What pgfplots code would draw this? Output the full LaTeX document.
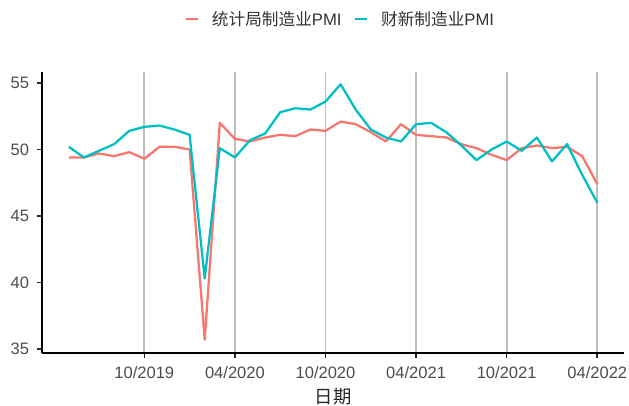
\documentclass[border=0pt]{standalone}
\usepackage{pgfplots}
\pgfplotsset{compat=1.18}
\usepackage{fontspec}
\setmainfont{Liberation Sans}
\newfontfamily\cjk{Noto Sans CJK SC}
\definecolor{nbs}{HTML}{F8766D}
\definecolor{cx}{HTML}{00BFC4}
\definecolor{gridc}{RGB}{190,190,190}
\definecolor{txt}{RGB}{77,77,77}

\begin{document}
\begin{tikzpicture}
\path[use as bounding box] (-31.8pt,-39.4pt) rectangle (439.98pt,264.4pt);
\begin{axis}[
  at={(0pt,0pt)}, anchor=south west,
  scale only axis, width=436pt, height=210.75pt,
  xmin=-1.75, xmax=36.75, ymin=34.74, ymax=55.86,
  axis x line=bottom, axis y line=left,
  axis line style={-, line width=1.5pt, black},
  xtick={5,11,17,23,29,35},
  xticklabels={10/2019,04/2020,10/2020,04/2021,10/2021,04/2022},
  ytick={35,40,45,50,55},
  tick align=outside, major tick length=4pt,
  tick style={line width=1.2pt, black!85},
  xmajorgrids=true, ymajorgrids=false,
  major grid style={gridc, line width=1.4pt},
  ticklabel style={font=\fontsize{12.4}{14}\selectfont, text=txt, inner sep=0pt},
  xticklabel shift=6pt, yticklabel shift=5.8pt,
  /pgf/number format/assume math mode=true,
  xlabel={\cjk 日期},
  xlabel style={at={(axis description cs:0.5,0)}, anchor=center, yshift=-33.4pt,
    font=\fontsize{13.75}{15}\selectfont, text=black!85},
  legend columns=2,
  legend style={at={(axis description cs:0.2453,1.1868)}, anchor=west,
    draw=none, fill=none, inner sep=0pt, outer sep=0pt, column sep=9.5pt,
    font=\fontsize{12.5}{14}\selectfont, text=black!80, nodes={inner sep=0pt}},
  legend image code/.code={\draw[#1] (0pt,0pt) -- (9pt,0pt);},
]
\addplot[nbs, line width=1.7pt, line join=round] coordinates {
(0,49.4) (1,49.4) (2,49.7) (3,49.5) (4,49.8) (5,49.3) (6,50.2) (7,50.2)
(8,50.0) (9,35.7) (10,52.0) (11,50.8) (12,50.6) (13,50.9) (14,51.1) (15,51.0)
(16,51.5) (17,51.4) (18,52.1) (19,51.9) (20,51.3) (21,50.6) (22,51.9) (23,51.1)
(24,51.0) (25,50.9) (26,50.4) (27,50.1) (28,49.6) (29,49.2) (30,50.1) (31,50.3)
(32,50.1) (33,50.2) (34,49.5) (35,47.4)
};
\addlegendentry{{\cjk 统计局制造业}PMI}
\addplot[cx, line width=1.7pt, line join=round] coordinates {
(0,50.2) (1,49.4) (2,49.9) (3,50.4) (4,51.4) (5,51.7) (6,51.8) (7,51.5)
(8,51.1) (9,40.3) (10,50.1) (11,49.4) (12,50.7) (13,51.2) (14,52.8) (15,53.1)
(16,53.0) (17,53.6) (18,54.9) (19,53.0) (20,51.5) (21,50.9) (22,50.6) (23,51.9)
(24,52.0) (25,51.3) (26,50.3) (27,49.2) (28,50.0) (29,50.6) (30,49.9) (31,50.9)
(32,49.1) (33,50.4) (34,48.1) (35,46.0)
};
\addlegendentry{{\cjk 财新制造业}PMI}
\end{axis}
\end{tikzpicture}
\end{document}
